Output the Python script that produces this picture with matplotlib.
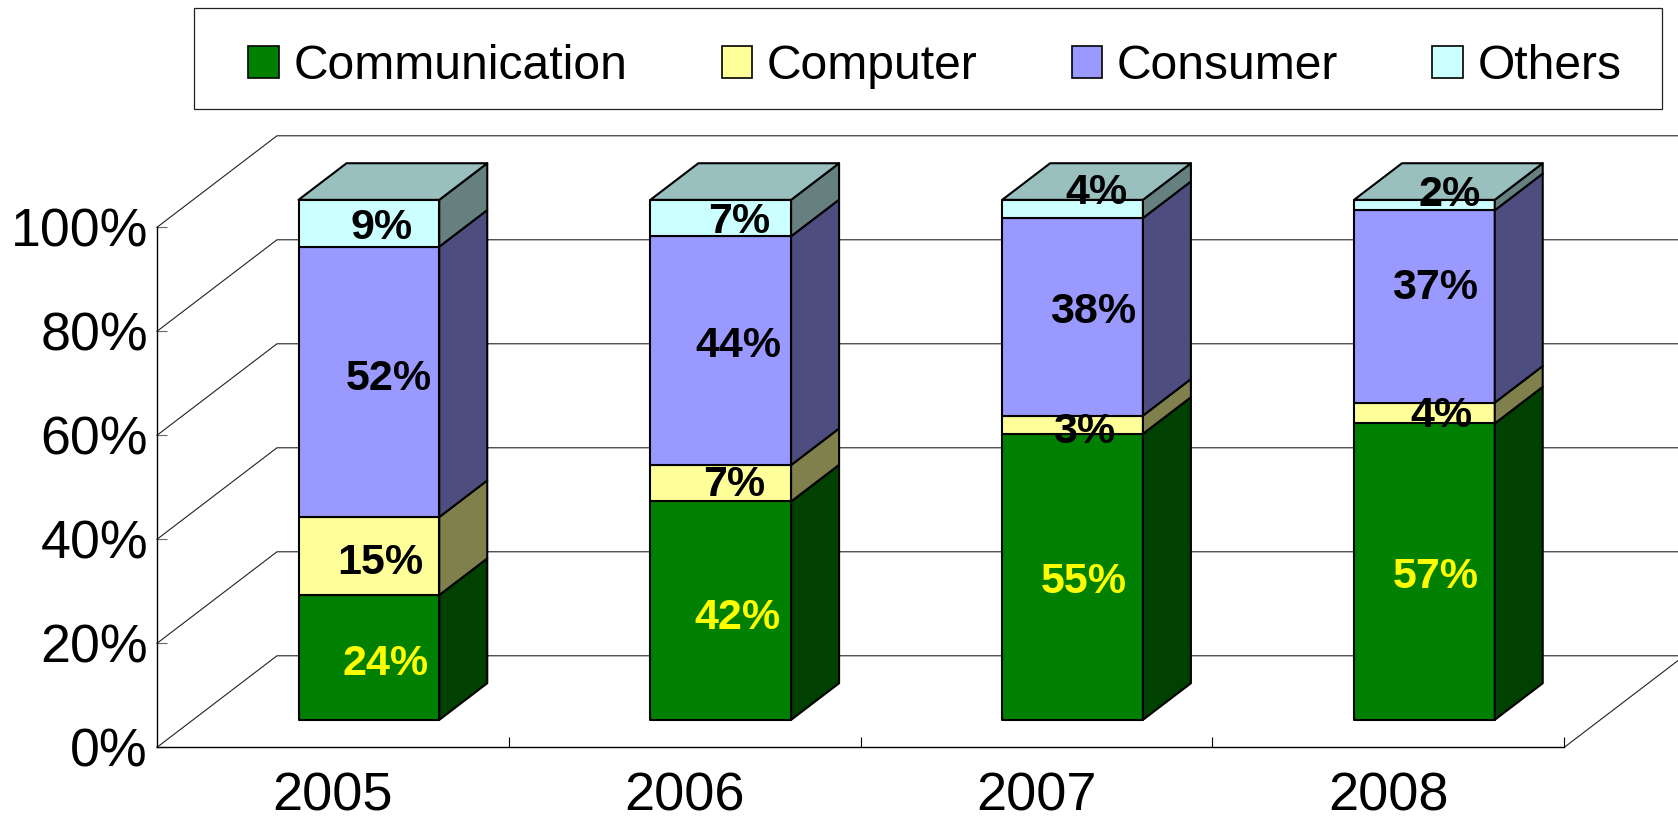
#!/usr/bin/env python3

import matplotlib
matplotlib.use('Agg')
import matplotlib.pyplot as plt
from matplotlib.colors import to_rgb
from matplotlib.patches import Patch, Polygon, Rectangle

W, H = 1678, 816

years = ['2005', '2006', '2007', '2008']
series = ['Communication', 'Computer', 'Consumer', 'Others']
communication = [24, 42, 55, 57]
computer = [15, 7, 3.5, 4]
consumer = [52, 44, 38, 37]
others = [9, 7, 3.5, 2]
y_ticks = [0, 20, 40, 60, 80, 100]

# the printed labels are rounded, the bars are not
communication_labels = ['24%', '42%', '55%', '57%']
computer_labels = ['15%', '7%', '3%', '4%']
consumer_labels = ['52%', '44%', '38%', '37%']
others_labels = ['9%', '7%', '4%', '2%']

values = [communication, computer, consumer, others]
labels = [communication_labels, computer_labels, consumer_labels, others_labels]
colors = ['#008000', '#FFFF99', '#9999FF', '#CCFFFF']
label_colors = ['#FFFF00', 'black', 'black', 'black']

# label offsets from the centre of each front face, in points (x, y up)
label_nudge = [
    [(12, -5), (12, -5), (8, -4), (8, -4)],
    [(8, -5), (10, -1), (8, -5.5), (12, -2)],
    [(14, 2), (13, 3), (15, 3.5), (8, 13.5)],
    [(9, -3.5), (13, -2.5), (17, 11.5), (18, 7)],
]

plt.rcParams['font.family'] = ['Liberation Sans', 'DejaVu Sans']

# depth of the box and where the bars sit inside it
depth_x, depth_y = 0.341, 17.6
bar_width = 0.4
front, back = 0.3, 0.7
edge = dict(edgecolor='black', linewidth=1.5, joinstyle='round', clip_on=False, zorder=3)


def shade(color, k):
    return tuple(c * k for c in to_rgb(color))


def draw_bars(ax):
    for i in range(len(years)):
        x0 = i + 0.5 - bar_width / 2 + front * depth_x
        x1 = x0 + bar_width
        lift = front * depth_y
        dx = (back - front) * depth_x
        dy = (back - front) * depth_y
        bottom = lift
        for s in range(len(series)):
            top = bottom + values[s][i]
            ax.add_patch(Polygon([(x0, bottom), (x1, bottom), (x1, top), (x0, top)],
                                 facecolor=colors[s], **edge))
            ax.add_patch(Polygon([(x1, bottom), (x1 + dx, bottom + dy), (x1 + dx, top + dy), (x1, top)],
                                 facecolor=shade(colors[s], 0.5), **edge))
            bottom = top
        ax.add_patch(Polygon([(x0, bottom), (x1, bottom), (x1 + dx, bottom + dy), (x0 + dx, bottom + dy)],
                             facecolor=shade(colors[-1], 0.75), **edge))

        # value labels go on top of all the faces
        bottom = lift
        for s in range(len(series)):
            nx, ny = label_nudge[s][i]
            ax.annotate(labels[s][i], ((x0 + x1) / 2, bottom + values[s][i] / 2),
                        xytext=(nx, ny), textcoords='offset points', ha='center', va='center',
                        fontsize=31, fontweight='bold', color=label_colors[s], zorder=5,
                        annotation_clip=False)
            bottom += values[s][i]


def main():
    fig = plt.figure(figsize=(W / 100, H / 100), dpi=100)
    ax = fig.add_axes([157 / W, (H - 747.3) / H, 1407.3 / W, 520 / H])
    ax.set_xlim(0, len(years))
    ax.set_ylim(0, 100)
    ax.patch.set_visible(False)
    for side in ['top', 'right']:
        ax.spines[side].set_visible(False)
    for side in ['left', 'bottom']:
        ax.spines[side].set_linewidth(1.0)

    # Walls
    for y in y_ticks:
        ax.plot([0, depth_x, len(years) + depth_x], [y, y + depth_y, y + depth_y],
                color='#222222', linewidth=0.8, clip_on=False, zorder=1)
    ax.plot([len(years), len(years) + depth_x], [0, depth_y],
            color='#222222', linewidth=0.8, clip_on=False, zorder=1)

    draw_bars(ax)

    # Axes
    ax.set_yticks(y_ticks)
    ax.set_yticklabels([f'{y}%' for y in y_ticks], fontsize=38.7)
    ax.tick_params(axis='y', direction='in', length=7.5, width=0.8, color='#666666', pad=6.5)
    ax.set_xticks([i + 0.5 for i in range(len(years))])
    ax.set_xticklabels(years, fontsize=39)
    ax.tick_params(axis='x', which='major', length=0, pad=17.5)
    ax.set_xticks(range(1, len(years) + 1), minor=True)
    ax.tick_params(axis='x', which='minor', direction='in', length=7.5, width=0.8)

    # Legend
    fig.add_artist(Rectangle((193.7 / W, (H - 109) / H), 1468.6 / W, 101.5 / H,
                             transform=fig.transFigure, facecolor='white',
                             edgecolor='#222222', linewidth=0.9))
    handles = [Patch(facecolor=c, edgecolor='black', linewidth=1.2) for c in colors]
    fig.legend(handles, series, loc='center', bbox_to_anchor=(935 / W, (H - 66.5) / H),
               ncol=4, frameon=False, fontsize=34.6, handlelength=0.64, handleheight=0.64,
               handletextpad=0.3, columnspacing=1.96, borderpad=0, borderaxespad=0)

    plt.savefig('out.png', dpi=100)


if __name__ == "__main__":
    main()
